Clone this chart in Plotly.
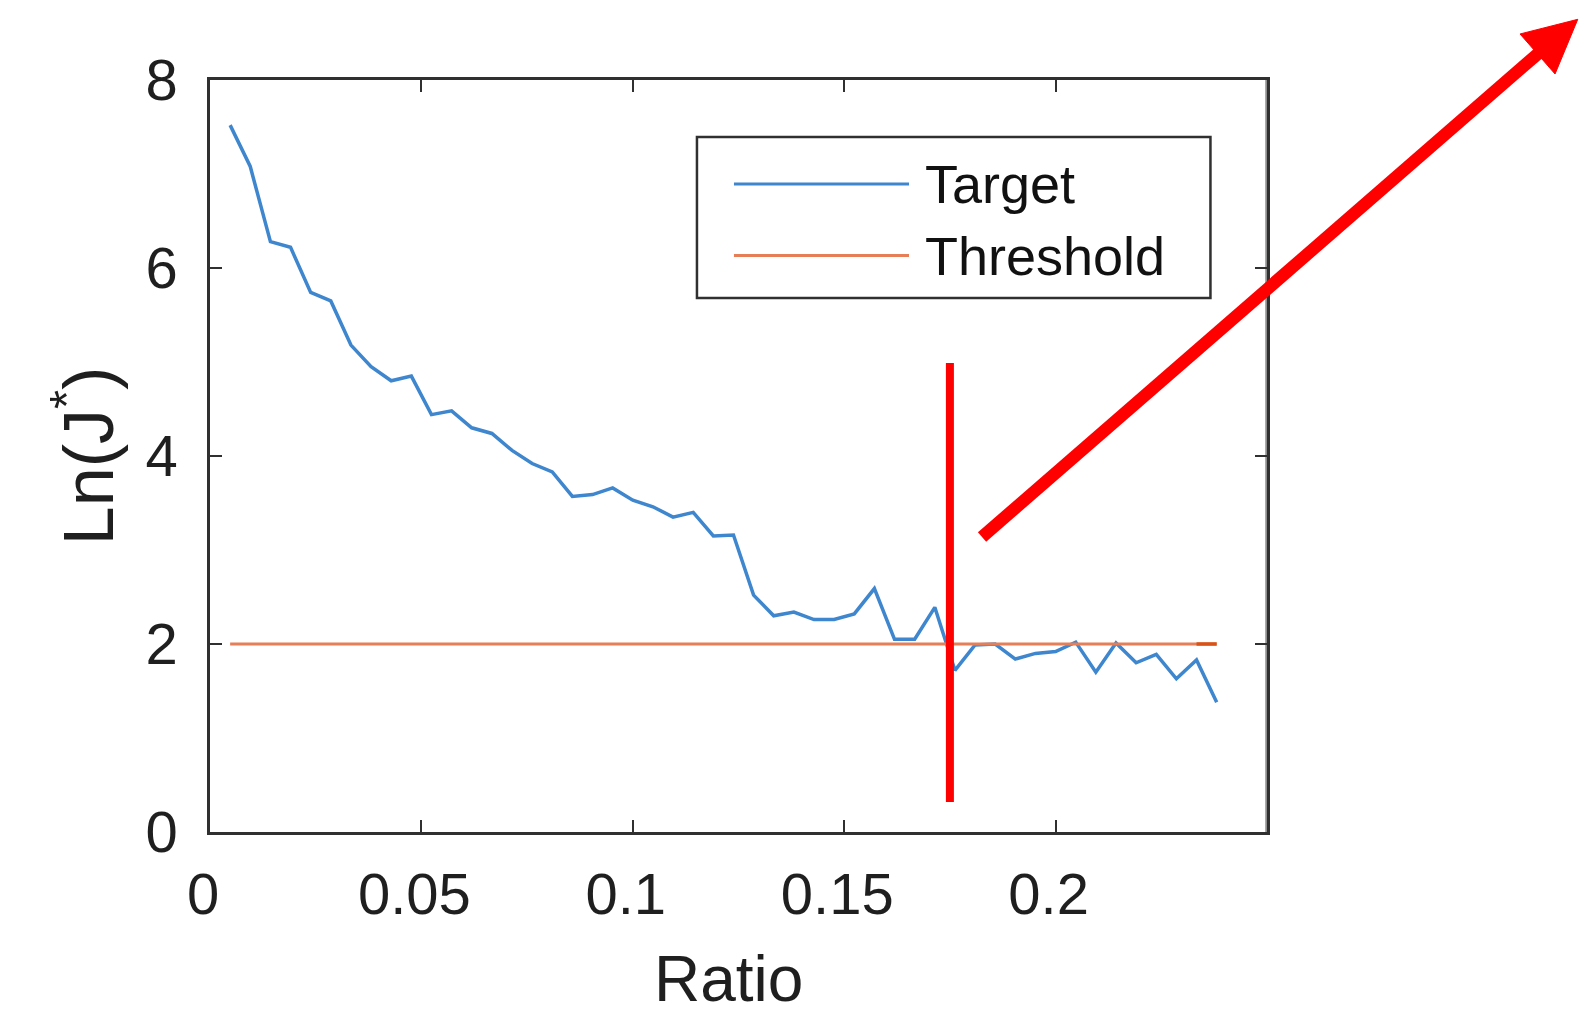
import plotly.graph_objects as go

# Sampled ratios and the objective value ln(J*) at each ratio
ratio = [0.00476, 0.00952, 0.01429, 0.01905, 0.02381, 0.02857, 0.03333, 0.03810,
         0.04286, 0.04762, 0.05238, 0.05714, 0.06190, 0.06667, 0.07143, 0.07619,
         0.08095, 0.08571, 0.09048, 0.09524, 0.10000, 0.10476, 0.10952, 0.11429,
         0.11905, 0.12381, 0.12857, 0.13333, 0.13810, 0.14286, 0.14762, 0.15238,
         0.15714, 0.16190, 0.16667, 0.17143, 0.17619, 0.18095, 0.18571, 0.19048,
         0.19524, 0.20000, 0.20476, 0.20952, 0.21429, 0.21905, 0.22381, 0.22857,
         0.23333, 0.23810]
target = [7.52, 7.08, 6.28, 6.22, 5.74, 5.65, 5.18, 4.95, 4.80, 4.85,
          4.44, 4.48, 4.30, 4.24, 4.06, 3.92, 3.83, 3.57, 3.59, 3.66,
          3.53, 3.46, 3.35, 3.40, 3.15, 3.16, 2.52, 2.30, 2.34, 2.26,
          2.26, 2.32, 2.59, 2.05, 2.05, 2.39, 1.72, 1.99, 2.00, 1.84,
          1.90, 1.92, 2.02, 1.70, 2.01, 1.80, 1.89, 1.63, 1.83, 1.38]
threshold_value = 2.0
threshold = [threshold_value] * len(ratio)

# Crossing marker position
cross_ratio = 0.175
cross_span = [0.32, 4.99]

x_ticks = [0, 0.05, 0.1, 0.15, 0.2]
x_labels = ["0", "0.05", "0.1", "0.15", "0.2"]
y_ticks = [0, 2, 4, 6, 8]

legend_names = ["Target", "Threshold"]

BLUE = "#3E86CE"
ORANGE = "#E67E57"
ORANGE_DARK = "#D95319"
AXIS = "#303030"
TEXT = "#1f1f1f"
FONT = "Liberation Sans, Arial, Helvetica, sans-serif"

fig = go.Figure()
fig.add_trace(go.Scatter(x=ratio, y=target, mode="lines", name=legend_names[0],
                         line=dict(color=BLUE, width=3.5), showlegend=False))
fig.add_trace(go.Scatter(x=ratio, y=threshold, mode="lines", name=legend_names[1],
                         line=dict(color=ORANGE, width=2.8), showlegend=False))
# last threshold segment is drawn a second time on top
fig.add_trace(go.Scatter(x=ratio[-2:], y=threshold[-2:], mode="lines",
                         line=dict(color=ORANGE_DARK, width=3.5), showlegend=False,
                         hoverinfo="skip"))

axis_common = dict(showgrid=False, zeroline=False, showline=True, linecolor=AXIS,
                   linewidth=2.5, ticks="inside", ticklen=12, tickwidth=2,
                   tickcolor=AXIS, mirror="ticks",
                   tickfont=dict(family=FONT, size=58, color=TEXT))

fig.update_xaxes(range=[0, 0.25], tickvals=x_ticks, ticktext=x_labels,
                 ticklabelstandoff=10, ticklabelshift=-7, **axis_common)
fig.update_yaxes(range=[0, 8], tickvals=y_ticks, ticklabelstandoff=18, **axis_common)

shapes = []
# vertical marker at the crossing
shapes.append(dict(type="line", xref="x", yref="y", x0=cross_ratio, x1=cross_ratio,
                   y0=cross_span[0], y1=cross_span[1],
                   line=dict(color="#FF0000", width=8)))
# big arrow pointing up and right
shapes.append(dict(type="line", xref="paper", yref="paper",
                   x0=0.7304, y0=0.3923, x1=1.2580, y1=1.0370,
                   line=dict(color="#FF0000", width=12.5)))
shapes.append(dict(type="path", xref="paper", yref="paper",
                   path="M 1.2940 1.0807 L 1.2394 1.0612 L 1.2725 1.0080 Z",
                   fillcolor="#FF0000", line=dict(color="#FF0000", width=1)))

# hand-built legend box with long line samples
lg_left, lg_right, lg_top, lg_bottom = 0.4607, 0.9465, 0.9242, 0.7101
shapes.append(dict(type="rect", xref="paper", yref="paper",
                   x0=lg_left, x1=lg_right, y0=lg_bottom, y1=lg_top,
                   fillcolor="white", line=dict(color=AXIS, width=2.5), layer="above"))
rows_y = [0.8617, 0.7666]
row_colors = [BLUE, ORANGE]
for yy, cc in zip(rows_y, row_colors):
    shapes.append(dict(type="line", xref="paper", yref="paper",
                       x0=0.4957, x1=0.6613, y0=yy, y1=yy,
                       line=dict(color=cc, width=3), layer="above"))

annotations = []
for yy, name in zip(rows_y, legend_names):
    annotations.append(dict(xref="paper", yref="paper", x=0.6745, y=yy,
                            xanchor="left", yanchor="middle", showarrow=False,
                            text=name, font=dict(family=FONT, size=54, color="#111111")))

annotations.append(dict(xref="paper", yref="paper", x=0.491, y=-0.196,
                        xanchor="center", yanchor="middle", showarrow=False,
                        text="Ratio", font=dict(family=FONT, size=64, color=TEXT)))
annotations.append(dict(xref="paper", yref="paper", x=-0.120, y=0.5,
                        xanchor="center", yanchor="middle", showarrow=False,
                        textangle=-90, text="Ln(J<sup>*</sup>)",
                        font=dict(family=FONT, size=70, color=TEXT)))

# right frame edge rendered lighter
shapes.append(dict(type="line", xref="paper", yref="paper", x0=1, x1=1, y0=0, y1=1,
                   line=dict(color="#8f8f8f", width=3.5), layer="below"))

fig.update_layout(
    width=1579, height=1011,
    margin=dict(l=210, r=312, t=80, b=179),
    paper_bgcolor="white", plot_bgcolor="white",
    shapes=shapes, annotations=annotations,
    showlegend=False,
)

fig.write_html("out.html")
